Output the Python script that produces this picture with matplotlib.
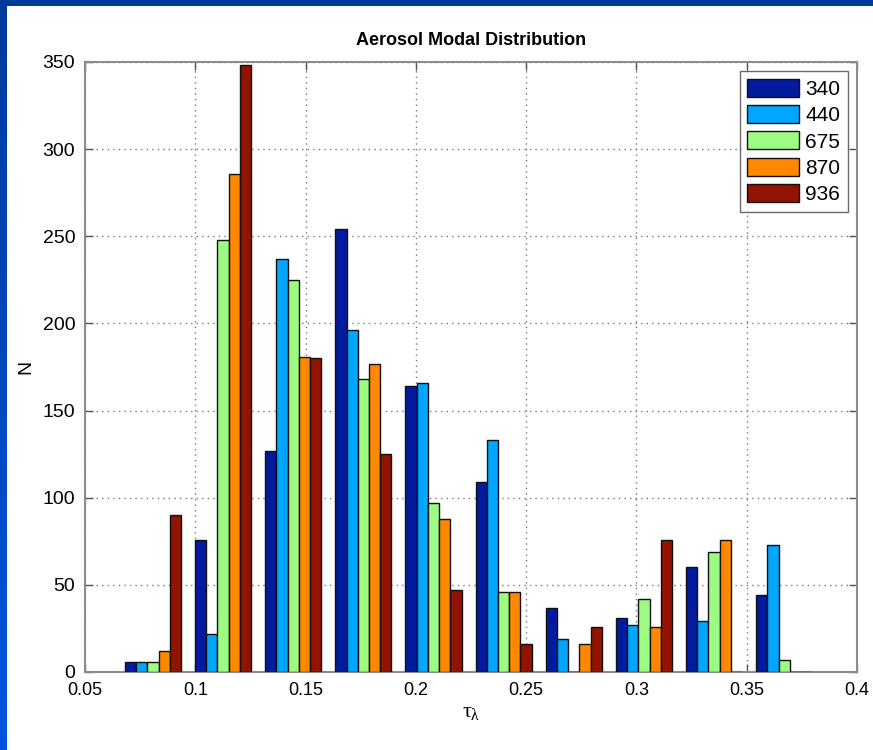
import numpy as np
import matplotlib.pyplot as plt
from matplotlib.colors import LinearSegmentedColormap

# histogram bin centres (optical depth) and counts per wavelength
tau_centers = [0.0808, 0.1126, 0.1444, 0.1762, 0.2080, 0.2398, 0.2716, 0.3034, 0.3352, 0.3670]
wavelengths = ['340', '440', '675', '870', '936']
n_340 = [6, 76, 127, 254, 164, 109, 37, 31, 60, 44]
n_440 = [6, 22, 237, 196, 166, 133, 19, 27, 29, 73]
n_675 = [6, 248, 225, 168, 97, 46, 0, 42, 69, 7]
n_870 = [12, 286, 181, 177, 88, 46, 16, 26, 76, 0]
n_936 = [90, 348, 180, 125, 47, 16, 26, 76, 0, 0]
counts = [n_340, n_440, n_675, n_870, n_936]

colors = ['#031b9e', '#00a6ff', '#9dfb83', '#ff8800', '#911300']

plt.rcParams['font.family'] = ['Liberation Sans', 'DejaVu Sans']
plt.rcParams['mathtext.fontset'] = 'custom'
plt.rcParams['mathtext.rm'] = 'Liberation Serif'
plt.rcParams['mathtext.it'] = 'Liberation Serif'

fig = plt.figure(figsize=(8.73, 7.5), dpi=100)

# blue slide frame along the top and left edges
top = fig.add_axes([0, 1 - 6 / 750, 1, 6 / 750])
top.set_axis_off()
top.add_patch(plt.Rectangle((0, 0), 1, 1, color='#003a9c', transform=top.transAxes))
left = fig.add_axes([0, 0, 7 / 873, 1])
grad = np.linspace(0, 1, 256).reshape(-1, 1)
cmap = LinearSegmentedColormap.from_list('frame', ['#0055e0', '#003a9c'])
left.imshow(grad, aspect='auto', cmap=cmap, origin='lower', extent=[0, 1, 0, 1])
left.set_axis_off()

ax = fig.add_axes([85 / 873, 78 / 750, 772 / 873, 610 / 750])

group_w = 0.0318
bar_w = group_w * 0.8 / 5
x = np.array(tau_centers)
for i, (vals, c, lab) in enumerate(zip(counts, colors, wavelengths)):
    off = (i - 2) * bar_w
    ax.bar(x + off, vals, width=bar_w, color=c, edgecolor='#111111',
           linewidth=1.0, label=lab, zorder=3)

ax.set_xlim(0.05, 0.4)
ax.set_ylim(0, 350)
ax.set_xticks([0.05, 0.1, 0.15, 0.2, 0.25, 0.3, 0.35, 0.4])
ax.set_xticklabels(['0.05', '0.1', '0.15', '0.2', '0.25', '0.3', '0.35', '0.4'])
ax.set_yticks(range(0, 351, 50))
ax.tick_params(direction='in', top=True, right=True, length=6, width=1,
               color='#555555', labelsize=13, pad=7)
ax.tick_params(axis='y', labelsize=14)
for s in ax.spines.values():
    s.set_color('#8c8c8c')
    s.set_linewidth(1.5)
ax.grid(True, linestyle=(0, (1, 3)), color='#777777', linewidth=1, zorder=0)
ax.set_axisbelow(True)

ax.set_title('Aerosol Modal Distribution', fontsize=13, fontweight='bold', pad=12)
ax.set_ylabel('N', fontsize=14, labelpad=6)
ax.set_xlabel(r'$\tau_\lambda$', fontsize=16, labelpad=2)

leg = ax.legend(loc='upper right', fontsize=15, frameon=True, fancybox=False,
                edgecolor='#444444', borderaxespad=0.45, handlelength=2.5,
                handleheight=0.95, labelspacing=0.3, handletextpad=0.3,
                borderpad=0.35)
leg.get_frame().set_linewidth(1.0)

fig.savefig('out.png', dpi=100, facecolor='white')
